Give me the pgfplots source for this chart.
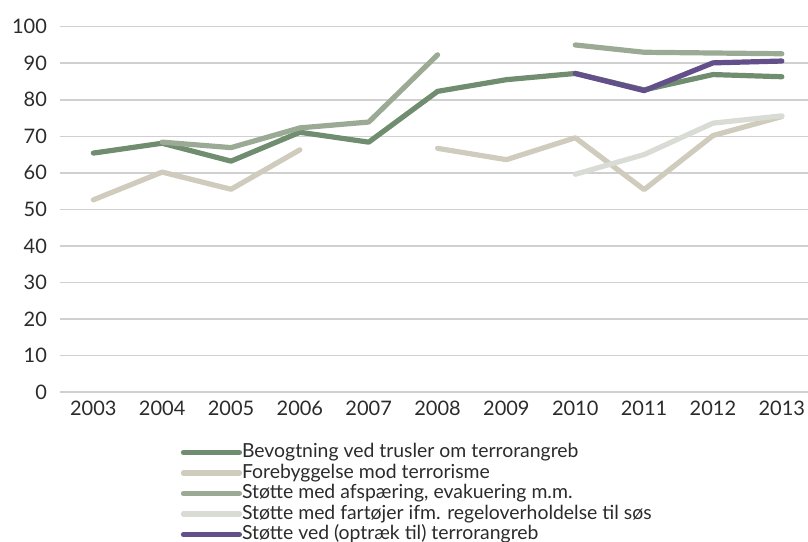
\documentclass[border=0pt]{standalone}
\usepackage{fontspec}
\setmainfont{Lato}
\usepackage{pgfplots}
\pgfplotsset{compat=1.18}
\usepackage{pgfplotstable}
\definecolor{cBev}{HTML}{718D70}
\definecolor{cFor}{HTML}{CFCBBD}
\definecolor{cAfs}{HTML}{9BAA95}
\definecolor{cFar}{HTML}{D9DBD5}
\definecolor{cVed}{HTML}{634F8A}
\definecolor{cGrid}{HTML}{D0D0D0}
\definecolor{cText}{HTML}{2B2B2B}
\pgfplotstableread{
year Bev For Afs Far Ved
2003 65.4 52.6 nan nan nan
2004 68.1 60.2 68.4 nan nan
2005 63.2 55.5 66.9 nan nan
2006 71.1 66.3 72.3 nan nan
2007 68.4 nan 73.9 nan nan
2008 82.3 66.7 92.3 nan nan
2009 85.5 63.6 nan nan nan
2010 87.2 69.6 95.0 59.6 87.2
2011 82.7 55.4 93.0 65.0 82.5
2012 86.9 70.2 92.8 73.6 90.1
2013 86.3 75.4 92.6 75.6 90.6
}\data
\begin{document}
\begin{tikzpicture}
\useasboundingbox (0,0) rectangle (404pt,270.5pt);
\begin{axis}[
  at={(30pt,74.5pt)}, anchor=south west,
  scale only axis, width=374pt, height=182.65pt,
  xmin=2002.516, xmax=2013.38, ymin=0, ymax=100,
  axis line style={draw=none},
  ymajorgrids, grid style={cGrid, line width=0.75pt},
  xtick={2003,...,2013}, ytick={0,10,...,100},
  xticklabel style={/pgf/number format/1000 sep={}},
  /pgf/number format/assume math mode=true,
  tick label style={font=\fontsize{10}{12}\selectfont, text=cText},
  yticklabel style={xshift=-3pt},
  xticklabel style={yshift=-1pt},
  major tick length=0pt,
  tick style={draw=none},
  unbounded coords=jump,
  clip=false,
  every axis plot/.append style={line width=2.6pt, line cap=round, line join=round},
  legend style={at={(0.153,-0.129)}, anchor=north west, draw=none, fill=none,
    font=\fontsize{9.7}{11}\selectfont, text=cText,
    nodes={inner sep=0pt, text height=7pt, text depth=2pt},
    row sep=1.25pt, /tikz/every even column/.append style={column sep=0pt}},
  legend cell align=left,
  legend image code/.code={\draw[#1, line cap=round] (0pt,0pt) -- (28pt,0pt);},
]
\addplot[cBev] table[x=year,y=Bev]{\data};
\addlegendentry{Bevogtning ved trusler om terrorangreb}
\addplot[cFor] table[x=year,y=For]{\data};
\addlegendentry{Forebyggelse mod terrorisme}
\addplot[cAfs] table[x=year,y=Afs]{\data};
\addlegendentry{Støtte med afspæring, evakuering m.m.}
\addplot[cFar] table[x=year,y=Far]{\data};
\addlegendentry{Støtte med fartøjer ifm. regeloverholdelse til søs}
\addplot[cVed] table[x=year,y=Ved]{\data};
\addlegendentry{Støtte ved (optræk til) terrorangreb}
\end{axis}
\end{tikzpicture}
\end{document}
